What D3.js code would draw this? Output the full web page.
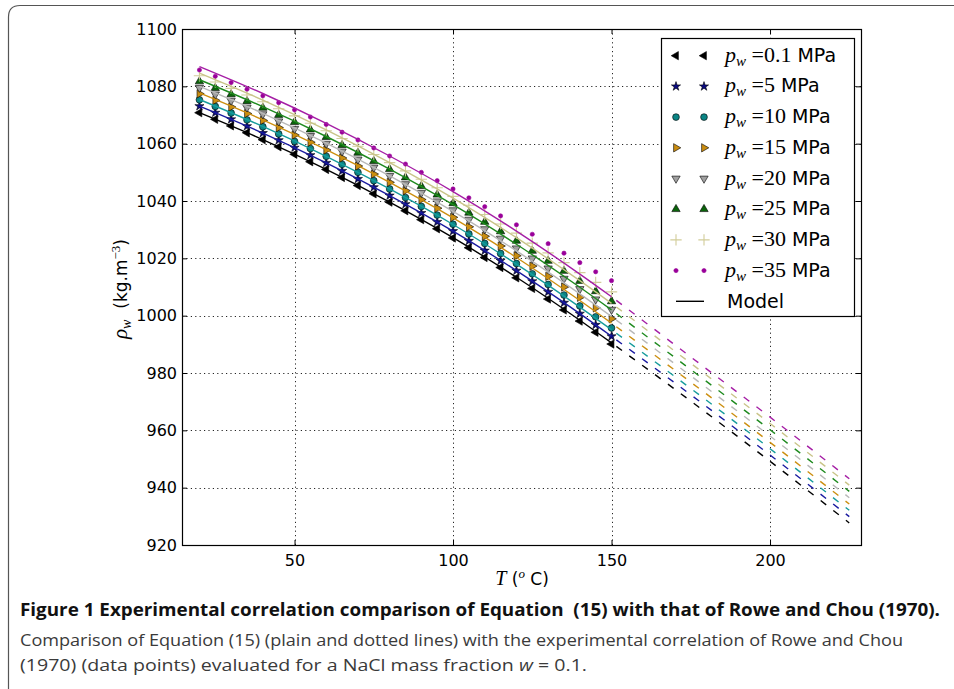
<!DOCTYPE html>
<html>
<head>
<meta charset="utf-8">
<script src="https://cdn.jsdelivr.net/npm/d3@7"></script>
<style>
body { margin: 0; background: #fff; }
svg { display: block; }
text { white-space: pre; }
</style>
</head>
<body>
<svg id="chart" width="954" height="689"></svg>
<script>
// data points (Rowe & Chou correlation), every 5 degC
var temps = [20, 25, 30, 35, 40, 45, 50, 55, 60, 65, 70, 75, 80, 85, 90, 95, 100,
	105, 110, 115, 120, 125, 130, 135, 140, 145, 150];
var pressureLabels = ['0.1', '5', '10', '15', '20', '25', '30', '35'];

var rho01 = [1070.8, 1068.5, 1066.2, 1063.8, 1061.4, 1058.9, 1056.3, 1053.7, 1051.0, 1048.2, 1045.4, 1042.5, 1039.6, 1036.6,
	1033.5, 1030.3, 1027.1, 1023.7, 1020.3, 1016.8, 1013.2, 1009.5, 1005.8, 1002.0, 998.1, 994.2, 990.1];
var rho5 = [1073.1, 1070.8, 1068.5, 1066.1, 1063.7, 1061.2, 1058.6, 1056.0, 1053.3, 1050.5, 1047.7, 1044.8, 1041.9, 1038.9,
	1035.8, 1032.7, 1029.5, 1026.1, 1022.7, 1019.2, 1015.7, 1012.0, 1008.3, 1004.5, 1000.7, 996.8, 992.8];
var rho10 = [1075.3, 1073.0, 1070.7, 1068.3, 1065.9, 1063.4, 1060.8, 1058.3, 1055.6, 1052.8, 1050.0, 1047.1, 1044.2, 1041.2,
	1038.1, 1035.1, 1031.9, 1028.5, 1025.2, 1021.7, 1018.2, 1014.6, 1010.9, 1007.2, 1003.4, 999.6, 995.7];
var rho15 = [1077.4, 1075.1, 1072.8, 1070.5, 1068.1, 1065.6, 1063.0, 1060.5, 1057.8, 1055.0, 1052.2, 1049.4, 1046.5, 1043.6,
	1040.5, 1037.5, 1034.3, 1031.0, 1027.7, 1024.3, 1020.9, 1017.3, 1013.7, 1010.0, 1006.4, 1002.7, 998.9];
var rho20 = [1079.5, 1077.2, 1075.0, 1072.6, 1070.3, 1067.8, 1065.2, 1062.7, 1060.0, 1057.3, 1054.5, 1051.7, 1048.8, 1045.9,
	1042.9, 1039.9, 1036.8, 1033.5, 1030.2, 1026.9, 1023.5, 1020.0, 1016.5, 1012.9, 1009.3, 1005.7, 1002.1];
var rho25 = [1081.7, 1079.4, 1077.2, 1074.8, 1072.5, 1070.0, 1067.5, 1064.9, 1062.3, 1059.5, 1056.8, 1053.9, 1051.1, 1048.2,
	1045.2, 1042.2, 1039.2, 1035.9, 1032.7, 1029.4, 1026.1, 1022.6, 1019.1, 1015.6, 1012.1, 1008.5, 1005.0];
var rho30 = [1083.7, 1081.5, 1079.3, 1077.0, 1074.6, 1072.2, 1069.7, 1067.1, 1064.5, 1061.8, 1059.1, 1056.2, 1053.4, 1050.5,
	1047.6, 1044.6, 1041.6, 1038.5, 1035.3, 1032.0, 1028.8, 1025.3, 1021.9, 1018.5, 1015.0, 1011.6, 1008.3];
var rho35 = [1085.7, 1083.5, 1081.3, 1079.0, 1076.7, 1074.3, 1071.8, 1069.3, 1066.7, 1064.0, 1061.3, 1058.5, 1055.7, 1052.9,
	1050.0, 1047.1, 1044.2, 1041.1, 1038.0, 1034.8, 1031.7, 1028.4, 1025.1, 1021.8, 1018.5, 1015.3, 1012.2];

// model (Equation 15): solid up to 150 degC, dotted beyond
var modelTemps = [20, 40, 60, 80, 100, 120, 140, 150, 175, 200, 225];
var model01 = [1070.8, 1061.4, 1051.0, 1039.6, 1027.2, 1013.4, 998.4, 990.5, 970.2, 949.2, 927.7];
var model5 = [1073.1, 1063.7, 1053.3, 1041.9, 1029.5, 1015.7, 1000.7, 992.8, 972.4, 951.4, 929.9];
var model10 = [1075.4, 1066.0, 1055.6, 1044.2, 1031.8, 1018.0, 1003.0, 995.1, 974.6, 953.6, 932.1];
var model15 = [1077.7, 1068.3, 1057.9, 1046.5, 1034.1, 1020.3, 1005.3, 997.4, 976.8, 955.8, 934.3];
var model20 = [1080.0, 1070.6, 1060.2, 1048.8, 1036.4, 1022.6, 1007.6, 999.7, 979.0, 958.0, 936.5];
var model25 = [1082.3, 1072.9, 1062.5, 1051.1, 1038.7, 1024.9, 1009.9, 1002.0, 981.2, 960.2, 938.7];
var model30 = [1084.6, 1075.2, 1064.8, 1053.4, 1041.0, 1027.2, 1012.2, 1004.3, 983.4, 962.4, 940.9];
var model35 = [1086.9, 1077.5, 1067.1, 1055.7, 1043.3, 1029.5, 1014.5, 1006.6, 985.6, 964.6, 943.1];
var solidEnd = 150;

var xTicks = [50, 100, 150, 200];
var yTicks = [920, 940, 960, 980, 1000, 1020, 1040, 1060, 1080, 1100];

var dataSeries = [rho01, rho5, rho10, rho15, rho20, rho25, rho30, rho35];
var modelSeries = [model01, model5, model10, model15, model20, model25, model30, model35];

// styles
var lineColors = ['#000000', '#1a1aa0', '#169c9c', '#cc8f10', '#b8b8b8', '#1e8a1e', '#c9c488', '#a51ea5'];
var markers = [
	{type: d3.symbolTriangle, rot: -90, size: 30, fill: '#000', stroke: '#000'},
	{type: d3.symbolStar, rot: 0, size: 26, fill: '#0a0a80', stroke: '#000'},
	{type: d3.symbolCircle, rot: 0, size: 36, fill: '#0b8585', stroke: '#000'},
	{type: d3.symbolTriangle, rot: 90, size: 30, fill: '#c98c10', stroke: '#000'},
	{type: d3.symbolTriangle, rot: 180, size: 30, fill: '#a0a0a0', stroke: '#000'},
	{type: d3.symbolTriangle, rot: 0, size: 30, fill: '#0b640b', stroke: '#000'},
	{type: d3.symbolPlus, rot: 0, size: 44, fill: 'none', stroke: '#d2cd9a'},
	{type: d3.symbolCircle, rot: 0, size: 14, fill: '#990099', stroke: '#990099'}
];

var svg = d3.select('#chart');
var plot = {left: 182, right: 861, top: 29, bottom: 545};
var mathFont = "'Liberation Serif', 'DejaVu Serif', serif";
var sansFont = "'DejaVu Sans', sans-serif";

var x = d3.scaleLinear().domain([14.5, 228.7]).range([plot.left, plot.right]);
var y = d3.scaleLinear().domain([920, 1100]).range([plot.bottom, plot.top]);

// figure panel border
svg.append('path')
	.attr('d', 'M8.5,689 V17 Q8.5,5.5 20,5.5 H954')
	.attr('fill', 'none')
	.attr('stroke', '#555')
	.attr('stroke-width', 1.2);

var clipId = 'plotclip';
svg.append('clipPath').attr('id', clipId)
	.append('rect')
	.attr('x', plot.left).attr('y', plot.top)
	.attr('width', plot.right - plot.left).attr('height', plot.bottom - plot.top);

// grid
var grid = svg.append('g').attr('stroke', '#000').attr('stroke-width', 1)
	.attr('stroke-dasharray', '1.2,3.2').attr('opacity', 0.85);
grid.selectAll('.gx').data(xTicks).enter().append('line')
	.attr('x1', function(d) {return Math.round(x(d)) + 0.5;})
	.attr('x2', function(d) {return Math.round(x(d)) + 0.5;})
	.attr('y1', plot.top).attr('y2', plot.bottom);
grid.selectAll('.gy').data(yTicks.slice(1, -1)).enter().append('line')
	.attr('y1', function(d) {return Math.round(y(d)) + 0.5;})
	.attr('y2', function(d) {return Math.round(y(d)) + 0.5;})
	.attr('x1', plot.left).attr('x2', plot.right);

var body = svg.append('g').attr('clip-path', 'url(#' + clipId + ')');

// data markers
dataSeries.forEach(function(vals, i) {
	var m = markers[i];
	var sym = d3.symbol().type(m.type).size(m.size);
	body.append('g').selectAll('path').data(vals).enter().append('path')
		.attr('d', sym)
		.attr('transform', function(d, j) {
			return 'translate(' + x(temps[j]) + ',' + y(d) + ') rotate(' + m.rot + ')';})
		.attr('fill', m.fill)
		.attr('stroke', m.stroke)
		.attr('stroke-width', m.fill === 'none' ? 1.1 : 0.6);
});

// model lines
var line = d3.line()
	.x(function(d) {return x(d[0]);})
	.y(function(d) {return y(d[1]);})
	.curve(d3.curveMonotoneX);

modelSeries.forEach(function(vals, i) {
	var pts = modelTemps.map(function(t, j) {return [t, vals[j]];});
	body.append('path')
		.datum(pts.filter(function(p) {return p[0] <= solidEnd;}))
		.attr('d', line)
		.attr('fill', 'none')
		.attr('stroke', lineColors[i])
		.attr('stroke-width', 1.4);
	body.append('path')
		.datum(pts.filter(function(p) {return p[0] >= solidEnd;}))
		.attr('d', line)
		.attr('fill', 'none')
		.attr('stroke', lineColors[i])
		.attr('stroke-width', 1.4)
		.attr('stroke-dasharray', '7,9')
		.attr('stroke-dashoffset', -6);
});

// axes (ticks inside, on all four sides)
function styleAxis(g) {
	g.select('.domain').remove();
	g.selectAll('.tick line').attr('stroke', '#000').attr('stroke-width', 1);
	g.selectAll('.tick text').attr('fill', '#000')
		.style('font-family', sansFont).style('font-size', '16px');
}
svg.append('g').attr('transform', 'translate(0,' + plot.bottom + ')')
	.call(d3.axisBottom(x).tickValues(xTicks).tickSize(-5).tickPadding(10).tickFormat(d3.format('d')))
	.call(styleAxis);
svg.append('g').attr('transform', 'translate(0,' + plot.top + ')')
	.call(d3.axisTop(x).tickValues(xTicks).tickSize(-5).tickFormat(''))
	.call(styleAxis);
svg.append('g').attr('transform', 'translate(' + plot.left + ',0)')
	.call(d3.axisLeft(y).tickValues(yTicks).tickSize(-5).tickPadding(5).tickFormat(d3.format('d')))
	.call(styleAxis);
svg.append('g').attr('transform', 'translate(' + plot.right + ',0)')
	.call(d3.axisRight(y).tickValues(yTicks).tickSize(-5).tickFormat(''))
	.call(styleAxis);

svg.append('rect')
	.attr('x', plot.left + 0.5).attr('y', plot.top + 0.5)
	.attr('width', plot.right - plot.left).attr('height', plot.bottom - plot.top)
	.attr('fill', 'none').attr('stroke', '#000').attr('stroke-width', 1.2);

// axis labels
var xl = svg.append('text').attr('x', 522).attr('y', 585).attr('text-anchor', 'middle').attr('fill', '#000');
xl.append('tspan').style('font-family', mathFont).style('font-style', 'italic').style('font-size', '20px').text('T');
xl.append('tspan').style('font-family', sansFont).style('font-size', '17px').text(' (');
xl.append('tspan').style('font-family', mathFont).style('font-style', 'italic').style('font-size', '13px')
	.attr('dy', -7).text('o');
xl.append('tspan').style('font-family', sansFont).style('font-size', '17px').attr('dy', 7).text(' C)');

var yl = svg.append('text').attr('transform', 'translate(127,289) rotate(-90)')
	.attr('text-anchor', 'middle').attr('fill', '#000');
yl.append('tspan').style('font-family', mathFont).style('font-style', 'italic').style('font-size', '21px').text('\u03c1');
yl.append('tspan').style('font-family', mathFont).style('font-style', 'italic').style('font-size', '14px')
	.attr('dy', 4).text('w');
yl.append('tspan').style('font-family', sansFont).style('font-size', '17px').attr('dy', -4).text('  (kg.m');
yl.append('tspan').style('font-family', mathFont).style('font-size', '13px').attr('dy', -7).text('\u22123');
yl.append('tspan').style('font-family', sansFont).style('font-size', '17px').attr('dy', 7).text(')');

// legend
var legend = svg.append('g');
legend.append('rect')
	.attr('x', 661.5).attr('y', 38.5).attr('width', 193).attr('height', 278)
	.attr('fill', '#fff').attr('stroke', '#000').attr('stroke-width', 1.2);
var rowY = function(i) {return 55.7 + i * 30.7;};
markers.forEach(function(m, i) {
	var sym = d3.symbol().type(m.type).size(m.size);
	[676, 704].forEach(function(mx) {
		legend.append('path').attr('d', sym)
			.attr('transform', 'translate(' + mx + ',' + rowY(i) + ') rotate(' + m.rot + ')')
			.attr('fill', m.fill).attr('stroke', m.stroke)
			.attr('stroke-width', m.fill === 'none' ? 1.1 : 0.6);
	});
	var t = legend.append('text').attr('x', 725).attr('y', rowY(i) + 6).attr('fill', '#000');
	t.append('tspan').style('font-family', mathFont).style('font-style', 'italic').style('font-size', '22px').text('p');
	t.append('tspan').style('font-family', mathFont).style('font-style', 'italic').style('font-size', '15px')
		.attr('dy', 4).text('w');
	t.append('tspan').style('font-family', mathFont).style('font-size', '22px').attr('dy', -4)
		.text(' =' + pressureLabels[i]);
	t.append('tspan').style('font-family', sansFont).style('font-size', '19px').text(' MPa');
});
legend.append('line')
	.attr('x1', 676).attr('x2', 704).attr('y1', rowY(8)).attr('y2', rowY(8))
	.attr('stroke', '#000').attr('stroke-width', 1.4);
legend.append('text').attr('x', 727).attr('y', rowY(8) + 7)
	.style('font-family', sansFont).style('font-size', '19px').attr('fill', '#000').text('Model');

// caption
var capFont = "'Open Sans', 'Noto Sans', sans-serif";
svg.append('text').attr('x', 20).attr('y', 616)
	.attr('textLength', 920).attr('lengthAdjust', 'spacingAndGlyphs')
	.style('font-family', capFont).style('font-weight', 'bold').style('font-size', '17px').attr('fill', '#111')
	.text('Figure 1 Experimental correlation comparison of Equation  (15) with that of Rowe and Chou (1970).');
svg.append('text').attr('x', 20).attr('y', 646)
	.attr('textLength', 883).attr('lengthAdjust', 'spacingAndGlyphs')
	.style('font-family', capFont).style('font-size', '17px').attr('fill', '#3a3a3a')
	.text('Comparison of Equation (15) (plain and dotted lines) with the experimental correlation of Rowe and Chou');
var cap3 = svg.append('text').attr('x', 20).attr('y', 671)
	.attr('textLength', 567).attr('lengthAdjust', 'spacingAndGlyphs')
	.style('font-family', capFont).style('font-size', '17px').attr('fill', '#3a3a3a');
cap3.append('tspan').text('(1970) (data points) evaluated for a NaCl mass fraction ');
cap3.append('tspan').style('font-style', 'italic').text('w');
cap3.append('tspan').text(' = 0.1.');
</script>
</body>
</html>
